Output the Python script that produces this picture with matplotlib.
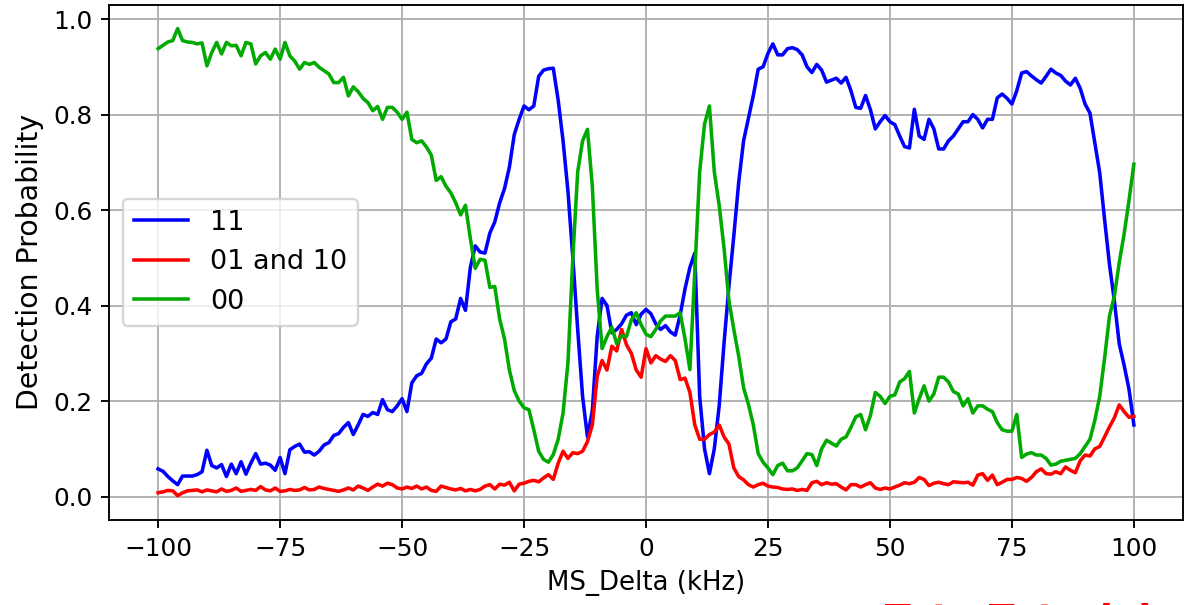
import numpy as np
import matplotlib
matplotlib.use("Agg")
import matplotlib.pyplot as plt

plt.rcParams.update({
    "font.family": "DejaVu Sans",
    "xtick.labelsize": 10.5,
    "ytick.labelsize": 10.5,
    "legend.fontsize": 11.5,
})

# ======================================================================
# Data: detection probabilities vs MS detuning (1 kHz steps)
# ======================================================================
ms_delta_khz = np.arange(-100, 101, 1)

p_11 = [
    0.058, 0.053, 0.042, 0.033, 0.025, 0.043, 0.043, 0.043, 0.046, 0.052,
    0.097, 0.065, 0.060, 0.067, 0.042, 0.068, 0.048, 0.073, 0.047, 0.070,
    0.090, 0.068, 0.070, 0.066, 0.055, 0.082, 0.048, 0.098, 0.105, 0.110,
    0.093, 0.094, 0.087, 0.095, 0.108, 0.113, 0.128, 0.132, 0.145, 0.155,
    0.130, 0.150, 0.172, 0.168, 0.176, 0.172, 0.203, 0.182, 0.178, 0.190,
    0.205, 0.178, 0.238, 0.253, 0.258, 0.278, 0.290, 0.330, 0.322, 0.330,
    0.366, 0.372, 0.415, 0.390, 0.480, 0.525, 0.512, 0.510, 0.552, 0.575,
    0.615, 0.645, 0.690, 0.758, 0.790, 0.818, 0.810, 0.818, 0.880, 0.893,
    0.896, 0.897, 0.830, 0.745, 0.640, 0.500, 0.350, 0.210, 0.125, 0.180,
    0.336, 0.415, 0.400, 0.343, 0.350, 0.362, 0.380, 0.385, 0.360, 0.382,
    0.392, 0.383, 0.362, 0.350, 0.358, 0.345, 0.338, 0.380, 0.435, 0.480,
    0.510, 0.210, 0.100, 0.048, 0.100, 0.190, 0.322, 0.441, 0.546, 0.658,
    0.745, 0.792, 0.840, 0.895, 0.900, 0.928, 0.948, 0.925, 0.925, 0.938,
    0.940, 0.936, 0.925, 0.900, 0.888, 0.905, 0.893, 0.868, 0.872, 0.876,
    0.866, 0.878, 0.850, 0.815, 0.813, 0.840, 0.810, 0.770, 0.785, 0.798,
    0.785, 0.779, 0.755, 0.733, 0.730, 0.811, 0.755, 0.748, 0.790, 0.770,
    0.728, 0.728, 0.745, 0.755, 0.770, 0.785, 0.785, 0.800, 0.790, 0.772,
    0.790, 0.790, 0.835, 0.843, 0.834, 0.822, 0.850, 0.887, 0.890, 0.881,
    0.873, 0.866, 0.880, 0.895, 0.887, 0.882, 0.870, 0.862, 0.876, 0.855,
    0.822, 0.803, 0.740, 0.678, 0.580, 0.486, 0.410, 0.320, 0.275, 0.225,
    0.150,
]

p_01_10 = [
    0.008, 0.010, 0.013, 0.012, 0.002, 0.008, 0.012, 0.013, 0.014, 0.010,
    0.014, 0.012, 0.010, 0.016, 0.011, 0.013, 0.018, 0.011, 0.013, 0.015,
    0.013, 0.021, 0.014, 0.012, 0.018, 0.011, 0.012, 0.015, 0.013, 0.014,
    0.019, 0.014, 0.015, 0.020, 0.017, 0.015, 0.013, 0.011, 0.014, 0.018,
    0.014, 0.022, 0.018, 0.013, 0.020, 0.026, 0.022, 0.028, 0.025, 0.018,
    0.016, 0.020, 0.017, 0.022, 0.016, 0.020, 0.013, 0.011, 0.022, 0.019,
    0.016, 0.014, 0.017, 0.012, 0.015, 0.012, 0.015, 0.022, 0.025, 0.016,
    0.026, 0.024, 0.030, 0.012, 0.026, 0.028, 0.032, 0.034, 0.031, 0.039,
    0.046, 0.036, 0.070, 0.095, 0.080, 0.092, 0.090, 0.095, 0.115, 0.150,
    0.252, 0.285, 0.265, 0.315, 0.305, 0.350, 0.318, 0.300, 0.265, 0.250,
    0.310, 0.280, 0.295, 0.288, 0.283, 0.295, 0.285, 0.245, 0.248, 0.218,
    0.150, 0.120, 0.120, 0.130, 0.135, 0.150, 0.125, 0.110, 0.060, 0.042,
    0.035, 0.025, 0.020, 0.025, 0.028, 0.022, 0.020, 0.019, 0.016, 0.015,
    0.016, 0.013, 0.015, 0.013, 0.029, 0.032, 0.025, 0.029, 0.026, 0.027,
    0.020, 0.014, 0.025, 0.025, 0.020, 0.025, 0.029, 0.018, 0.015, 0.018,
    0.016, 0.020, 0.024, 0.029, 0.027, 0.030, 0.040, 0.036, 0.023, 0.028,
    0.030, 0.027, 0.025, 0.031, 0.030, 0.029, 0.030, 0.024, 0.045, 0.048,
    0.034, 0.045, 0.025, 0.030, 0.036, 0.036, 0.040, 0.038, 0.032, 0.040,
    0.052, 0.058, 0.048, 0.047, 0.052, 0.048, 0.062, 0.055, 0.050, 0.075,
    0.087, 0.085, 0.100, 0.105, 0.125, 0.146, 0.165, 0.192, 0.178, 0.166,
    0.168,
]

p_00 = [
    0.938, 0.945, 0.952, 0.955, 0.980, 0.955, 0.952, 0.951, 0.948, 0.950,
    0.902, 0.930, 0.951, 0.927, 0.951, 0.944, 0.945, 0.923, 0.951, 0.948,
    0.906, 0.923, 0.930, 0.916, 0.937, 0.916, 0.951, 0.923, 0.912, 0.895,
    0.909, 0.905, 0.909, 0.899, 0.892, 0.885, 0.867, 0.867, 0.878, 0.839,
    0.858, 0.848, 0.834, 0.825, 0.808, 0.817, 0.790, 0.815, 0.815, 0.805,
    0.790, 0.805, 0.748, 0.741, 0.745, 0.732, 0.715, 0.662, 0.670, 0.650,
    0.636, 0.615, 0.590, 0.610, 0.540, 0.478, 0.497, 0.495, 0.438, 0.440,
    0.372, 0.330, 0.265, 0.222, 0.200, 0.186, 0.182, 0.140, 0.095, 0.078,
    0.072, 0.088, 0.120, 0.175, 0.280, 0.500, 0.680, 0.745, 0.769, 0.650,
    0.434, 0.310, 0.335, 0.355, 0.320, 0.337, 0.335, 0.370, 0.385, 0.360,
    0.340, 0.335, 0.350, 0.368, 0.378, 0.378, 0.378, 0.385, 0.330, 0.266,
    0.470, 0.680, 0.780, 0.818, 0.680, 0.610, 0.520, 0.410, 0.350, 0.294,
    0.228, 0.193, 0.150, 0.090, 0.072, 0.060, 0.046, 0.065, 0.070, 0.054,
    0.054, 0.060, 0.075, 0.090, 0.088, 0.065, 0.100, 0.118, 0.112, 0.106,
    0.120, 0.125, 0.145, 0.167, 0.172, 0.140, 0.170, 0.218, 0.210, 0.195,
    0.210, 0.213, 0.240, 0.247, 0.262, 0.175, 0.205, 0.232, 0.200, 0.215,
    0.250, 0.250, 0.240, 0.220, 0.215, 0.190, 0.205, 0.175, 0.190, 0.190,
    0.183, 0.178, 0.155, 0.140, 0.137, 0.137, 0.172, 0.082, 0.089, 0.092,
    0.087, 0.087, 0.080, 0.066, 0.068, 0.074, 0.076, 0.078, 0.080, 0.090,
    0.105, 0.120, 0.160, 0.210, 0.290, 0.378, 0.420, 0.490, 0.550, 0.620,
    0.696,
]

series_labels = ["11", "01 and 10", "00"]
series_colors = ["blue", "red", "#00aa00"]

# ======================================================================
# Figure
# ======================================================================
dpi = 170
fig = plt.figure(figsize=(1191 / dpi, 605 / dpi), dpi=dpi)
ax = fig.add_axes([0.0918, 0.1405, 0.9012, 0.8517])

for values, label, color in zip([p_11, p_01_10, p_00], series_labels, series_colors):
    ax.plot(ms_delta_khz, values, color=color, linewidth=1.5, label=label)

ax.set_xlim(-110, 110)
ax.set_ylim(-0.049, 1.030)
ax.set_xlabel("MS_Delta (kHz)", fontsize=11)
ax.set_ylabel("Detection Probability", fontsize=12)
ax.grid(True)
ax.legend(loc="center left")

# bottom edge of the screenshot cuts off a red caption
fig.text(0.743, 0.004, "Toto Tutorial", color="red", fontsize=16,
         fontweight="bold", ha="left", va="top")

fig.savefig("out.png", dpi=dpi)
